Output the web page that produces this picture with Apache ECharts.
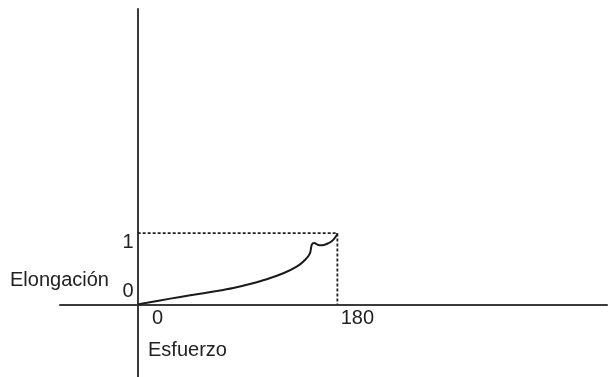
<!DOCTYPE html>
<html>
<head>
<meta charset="utf-8">
<script src="https://cdn.jsdelivr.net/npm/echarts@6/dist/echarts.min.js"></script>
<style>
  html, body { margin: 0; padding: 0; background: #fff; }
  #chart { width: 608px; height: 377px; }
</style>
</head>
<body>
<div id="chart"></div>
<script>
// Stress (x) vs elongation (y) curve
const stress = [0, 8.4, 29.4, 47.4, 71.2, 86.2, 101.2, 116.3, 131.3, 143.3, 150.8, 155.3, 156.9, 159.2, 162.2, 166.2, 170.4, 174.9, 178.8, 180];
const elongation = [0, 0.023, 0.081, 0.128, 0.188, 0.231, 0.287, 0.354, 0.437, 0.53, 0.624, 0.718, 0.839, 0.863, 0.839, 0.83, 0.849, 0.886, 0.957, 1];

// Reference guide at the end point of the curve
const guideX = [0, 180, 180];
const guideY = [1, 1, 0];

const xTicks = [0, 180];
const yTicks = [0, 1];

const xTitle = 'Esfuerzo';
const yTitle = 'Elongación';

const curveData = stress.map((s, i) => [s, elongation[i]]);
const guideData = guideX.map((g, i) => [g, guideY[i]]);

const FONT = 'Liberation Sans, Arial, sans-serif';
const TEXT = '#222';
const AXIS = '#3a3a3a';

// Plot area and axis extents
const W = 608, H = 377;
const grid = { left: 60, right: 1, top: 9, bottom: 0 };
const xMin = -70, xMax = 423;
const yMin = -1.02, yMax = 4.15;

// Axes cross at the origin: shift each axis from the grid edge to zero
const gridW = W - grid.left - grid.right;
const gridH = H - grid.top - grid.bottom;
const yAxisShift = (0 - xMin) / (xMax - xMin) * gridW;
const xAxisShift = (0 - yMin) / (yMax - yMin) * gridH;

const chart = echarts.init(document.getElementById('chart'));
chart.setOption({
  animation: false,
  backgroundColor: '#fff',
  grid: Object.assign({ containLabel: false, outerBoundsMode: 'none' }, grid),
  xAxis: {
    type: 'value',
    min: xMin,
    max: xMax,
    position: 'bottom',
    offset: -xAxisShift,
    axisLine: { show: true, onZero: false, lineStyle: { color: AXIS, width: 2 } },
    axisTick: { show: false },
    splitLine: { show: false },
    axisLabel: {
      customValues: xTicks,
      margin: 4,
      formatter: v => '{x|' + v + '}',
      rich: { x: { fontSize: 20, fontFamily: FONT, color: TEXT, padding: [0, 0, 0, 40] } }
    }
  },
  yAxis: {
    type: 'value',
    min: yMin,
    max: yMax,
    position: 'left',
    offset: -yAxisShift,
    axisLine: { show: true, onZero: false, lineStyle: { color: AXIS, width: 2 } },
    axisTick: { show: false },
    splitLine: { show: false },
    axisLabel: {
      customValues: yTicks,
      margin: 4,
      formatter: v => (v === 1 ? '{hi|1}' : '{lo|0}'),
      rich: {
        hi: { fontSize: 20, fontFamily: FONT, color: TEXT, padding: [18, 0, 0, 0] },
        lo: { fontSize: 20, fontFamily: FONT, color: TEXT, padding: [0, 0, 26, 0] }
      }
    }
  },
  graphic: [
    { type: 'text', left: 10, top: 270, style: { text: yTitle, font: '20px ' + FONT, fill: TEXT } },
    { type: 'text', left: 148, top: 340, style: { text: xTitle, font: '20px ' + FONT, fill: TEXT } }
  ],
  series: [
    {
      type: 'line',
      data: guideData,
      symbol: 'none',
      lineStyle: { color: '#222', width: 1.8, type: [3, 2] },
      z: 2
    },
    {
      type: 'line',
      data: curveData,
      symbol: 'none',
      smooth: 0.25,
      lineStyle: { color: '#1a1a1a', width: 2 },
      z: 3
    }
  ]
});
</script>
</body>
</html>
